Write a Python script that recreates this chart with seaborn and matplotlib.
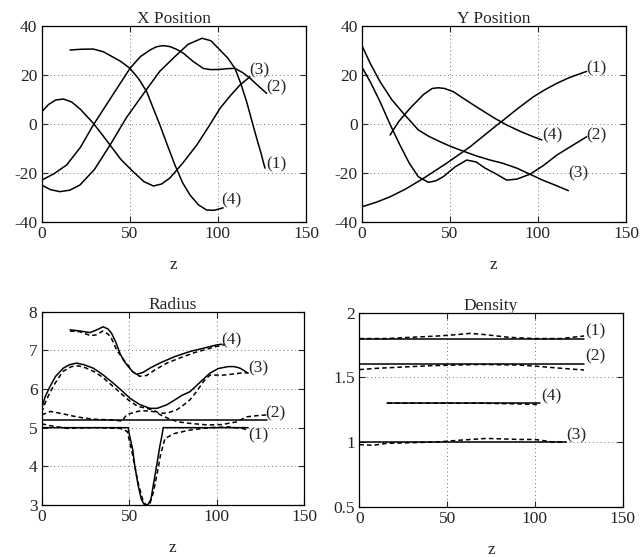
import matplotlib
matplotlib.use("Agg")
import matplotlib.pyplot as plt
import seaborn as sns

# ---- X Position ----
x1_z = [0, 5, 10.4, 16, 21.7, 30, 38.8, 48, 58.6, 67, 75.6, 83, 91, 96, 101.2, 105.5, 109.7, 113, 116.3, 119, 122, 124.5, 126.7]
x1_v = [-24.9, -26.8, -27.6, -27, -24.9, -18.5, -8.6, 2.5, 13.2, 21.5, 27.5, 32.5, 35, 34, 30.2, 27, 22.7, 16.5, 9.1, 2, -5.8, -12, -18]
x2_z = [0, 7, 14.2, 22, 29.3, 40, 50.1, 56, 61.5, 65, 69, 72.8, 76.5, 80.4, 86, 91.7, 96, 101.2, 105.5, 109.7, 114, 118.2, 123, 127.7]
x2_v = [-22.9, -20.3, -16.7, -9.5, -0.4, 11.5, 22.7, 27.5, 30.2, 31.5, 32, 31.6, 30.5, 28.9, 25.5, 22.7, 22.2, 22.3, 22.6, 22.7, 21, 18.7, 15.5, 12.5]
x3_z = [0, 4, 8, 12.3, 17, 22, 29.3, 34, 38.8, 45, 52, 58, 63.4, 68, 72.8, 80, 88, 95, 101.2, 107, 112.5, 118.2]
x3_v = [5, 8, 9.8, 10.2, 9, 6, 0.3, -4, -8.6, -14.5, -19.5, -23.5, -25.3, -24.5, -22, -16, -8.6, -0.8, 6.4, 11.5, 15.9, 19.3]
x4_z = [16.1, 22, 29.3, 35, 40, 45, 50.1, 55, 59.6, 63, 67.1, 71, 75.6, 80, 84.2, 89, 93.6, 98, 103]
x4_v = [30.2, 30.5, 30.6, 29.5, 27.5, 25.5, 22.7, 18.5, 13.2, 7, -0.4, -8, -16.7, -24, -29, -33, -35.1, -35.2, -34.2]

# ---- Y Position ----
y1_z = [0, 8, 16.1, 25, 35, 48.2, 61.5, 75.6, 80.4, 88, 97.4, 104, 110.7, 118, 127.7]
y1_v = [-33.8, -32, -29.7, -26.5, -22.2, -16, -9.3, -1.1, 1.6, 6, 11.1, 14, 16.6, 19, 21.5]
y2_z = [0, 5, 10.4, 16, 21.7, 27, 32.1, 37.8, 42, 46.3, 53, 59.6, 65, 70, 75.6, 82.3, 88, 95.5, 103, 110.7, 119, 127.7]
y2_v = [23.4, 17, 9.1, 0, -8.6, -16, -21.5, -23.8, -23.2, -21.5, -17.5, -14.7, -15.5, -18, -20.1, -22.9, -22.5, -20.5, -17, -12.7, -9, -5.2]
y3_z = [0, 5, 10.4, 17, 23.6, 32.1, 38, 44.4, 50, 55.8, 65, 72.8, 80, 88, 95.5, 103, 110, 117.3]
y3_v = [32.2, 24.5, 17.3, 10, 4.4, -2.4, -5, -7.2, -9, -10.6, -13, -14.7, -16, -18, -20.5, -23, -25, -27.2]
y4_z = [16.1, 21, 27.4, 35, 40, 43.5, 47, 52, 57, 63.4, 70, 75.6, 82.3, 90, 96, 102.2]
y4_v = [-4.5, 1, 6.4, 12, 14.5, 14.8, 14.5, 13.2, 10.8, 7.8, 4.8, 2.3, -0.4, -3, -4.8, -6.5]

# ---- Radius (solid = true, dashed = estimate) ----
r1s_z = [0, 49.5, 50, 52, 53.3, 55.2, 57, 58.5, 59.6, 61, 62.5, 63.8, 65.7, 67.5, 69, 69.5, 118]
r1s_v = [5, 5, 4.85, 4.45, 4.0, 3.5, 3.15, 3.02, 3.0, 3.02, 3.15, 3.5, 4.0, 4.5, 4.85, 5, 5]
r1d_z = [0, 5, 15, 30, 45, 49, 52, 55, 58, 60, 62, 64, 66, 68, 70.5, 76, 85, 96, 107, 116, 118]
r1d_v = [5.1, 5.05, 4.98, 5.0, 4.98, 4.9, 4.3, 3.6, 3.1, 2.98, 3.05, 3.35, 3.8, 4.3, 4.72, 4.85, 4.94, 5.0, 5.02, 4.97, 4.9]
r2s_z = [0, 128.6]
r2s_v = [5.2, 5.2]
r2d_z = [0, 5, 12, 20, 29, 40, 46, 48.5, 53, 57, 61, 64.7, 68, 72.3, 78, 85, 95, 103, 111.5, 117.2, 123, 128.6]
r2d_v = [5.33, 5.42, 5.36, 5.28, 5.22, 5.2, 5.17, 5.33, 5.4, 5.44, 5.43, 5.41, 5.33, 5.24, 5.15, 5.11, 5.07, 5.08, 5.15, 5.28, 5.31, 5.33]
r3s_z = [0, 2, 4.7, 8, 12.4, 16, 20, 24, 29.5, 35, 41, 46, 50.5, 56, 61.9, 66, 71.5, 76.2, 80, 84.8, 90, 96.2, 101, 106.7, 110, 113.4, 118.1]
r3s_v = [5.5, 5.8, 6.06, 6.33, 6.54, 6.63, 6.67, 6.63, 6.54, 6.37, 6.15, 5.95, 5.76, 5.6, 5.5, 5.5, 5.59, 5.72, 5.83, 5.93, 6.15, 6.41, 6.53, 6.58, 6.58, 6.54, 6.41]
r3d_z = [0, 3, 7, 12, 17, 21, 25, 30, 35, 40, 45, 50, 55, 60, 64, 67.6, 72, 77.2, 81, 84.8, 88, 90.5, 93, 96.2, 100, 103.9, 108, 113.4, 118]
r3d_v = [5.4, 5.75, 6.1, 6.45, 6.58, 6.6, 6.55, 6.45, 6.3, 6.1, 5.9, 5.7, 5.55, 5.5, 5.45, 5.37, 5.38, 5.46, 5.58, 5.72, 5.9, 6.06, 6.22, 6.36, 6.36, 6.36, 6.38, 6.41, 6.42]
r4s_z = [16.2, 22, 27.6, 31, 35.2, 38, 40, 42.5, 44.8, 47, 49.5, 52, 54.3, 58, 61.9, 68, 76.2, 84.8, 92, 100.1, 103]
r4s_v = [7.53, 7.5, 7.46, 7.52, 7.61, 7.55, 7.44, 7.2, 6.92, 6.73, 6.58, 6.45, 6.38, 6.43, 6.54, 6.68, 6.84, 6.97, 7.05, 7.14, 7.16]
r4d_z = [16.2, 22, 28, 31, 35, 38, 40, 43, 47, 50, 52, 56, 60, 65, 72, 80, 88, 96, 100, 105]
r4d_v = [7.5, 7.48, 7.38, 7.4, 7.5, 7.42, 7.3, 7.0, 6.75, 6.58, 6.45, 6.33, 6.35, 6.5, 6.68, 6.82, 6.95, 7.05, 7.1, 7.15]

# ---- Density ----
d1s_z = [0, 128]
d1s_v = [1.8, 1.8]
d1d_z = [0, 15, 30, 45, 55, 63, 72, 85, 100, 115, 128]
d1d_v = [1.8, 1.8, 1.81, 1.82, 1.83, 1.84, 1.83, 1.81, 1.8, 1.8, 1.82]
d2s_z = [0, 128]
d2s_v = [1.6, 1.6]
d2d_z = [0, 10, 25, 40, 53.5, 70, 91.5, 102, 110.5, 120, 128]
d2d_v = [1.56, 1.57, 1.58, 1.59, 1.595, 1.6, 1.595, 1.585, 1.575, 1.565, 1.557]
d3s_z = [0, 118]
d3s_v = [1.0, 1.0]
d3d_z = [0, 8, 15.6, 30, 44, 58, 72.5, 91.5, 100, 110.5, 118]
d3d_v = [0.98, 0.975, 0.99, 0.995, 1.0, 1.015, 1.028, 1.02, 1.02, 1.0, 1.0]
d4s_z = [16, 103]
d4s_v = [1.3, 1.3]
d4d_z = [16, 40, 70, 90, 103]
d4d_v = [1.3, 1.3, 1.3, 1.295, 1.29]

# curve tags and where they sit
x_tags = [("(1)", 127.7, -16.3), ("(2)", 127.7, 15), ("(3)", 118, 22), ("(4)", 102, -31)]
y_tags = [("(1)", 127.7, 22.7), ("(2)", 127.7, -4.5), ("(3)", 117.3, -20.1), ("(4)", 102.2, -4.5)]
r_tags = [("(1)", 118, 4.81), ("(2)", 127.7, 5.37), ("(3)", 118.1, 6.54), ("(4)", 102.9, 7.27)]
d_tags = [("(1)", 128.5, 1.853), ("(2)", 128.5, 1.66), ("(3)", 118.1, 1.054), ("(4)", 103.9, 1.35)]

x_ticks = [0, 50, 100, 150]
xy_yticks = [-40, -20, 0, 20, 40]
r_yticks = [3, 4, 5, 6, 7, 8]
d_yticks = [0.5, 1, 1.5, 2]
d_ylabels = ["0.5", "1", "1.5", "2"]

sns.set_style("ticks")
plt.rcParams["font.family"] = ["Liberation Serif", "DejaVu Serif"]
plt.rcParams["axes.unicode_minus"] = False
FS = 12.5
plt.rcParams["font.size"] = FS

fig = plt.figure(figsize=(6.41, 5.57), dpi=100)
ax_x = fig.add_axes([0.065, 0.6014, 0.4124, 0.3519])
ax_y = fig.add_axes([0.5643, 0.6014, 0.4123, 0.3519])
ax_r = fig.add_axes([0.065, 0.0934, 0.4092, 0.3470])
ax_d = fig.add_axes([0.5605, 0.0903, 0.4109, 0.3483])

LW = 1.1


def draw(ax, z, v, dashed=False):
    sns.lineplot(x=z, y=v, ax=ax, color="black", lw=LW, estimator=None,
                 sort=False)
    if dashed:
        ax.lines[-1].set_dashes([3, 2])


def style(ax, title, yticks, ylim, ylabels=None):
    ax.set_xlim(0, 150)
    ax.set_ylim(*ylim)
    ax.set_xticks(x_ticks)
    ax.set_yticks(yticks)
    if ylabels is not None:
        ax.set_yticklabels(ylabels)
    ax.set_title(title, fontsize=FS, pad=2)
    ax.set_xlabel("z", fontsize=FS, labelpad=11)
    ax.set_ylabel("")
    ax.grid(True, linestyle=(0, (1, 3)), color="0.45", lw=0.7)
    ax.tick_params(direction="in", top=True, right=True, length=4,
                   width=0.8, labelsize=FS, pad=3)
    for s in ax.spines.values():
        s.set_color("black")
        s.set_linewidth(0.9)


def tag(ax, tags):
    for t, z, v in tags:
        ax.text(z, v, t, ha="left", va="center", fontsize=FS)


for z, v in [(x1_z, x1_v), (x2_z, x2_v), (x3_z, x3_v), (x4_z, x4_v)]:
    draw(ax_x, z, v)
style(ax_x, "X Position", xy_yticks, (-40, 40))
tag(ax_x, x_tags)

for z, v in [(y1_z, y1_v), (y2_z, y2_v), (y3_z, y3_v), (y4_z, y4_v)]:
    draw(ax_y, z, v)
style(ax_y, "Y Position", xy_yticks, (-40, 40))
tag(ax_y, y_tags)

for z, v in [(r1s_z, r1s_v), (r2s_z, r2s_v), (r3s_z, r3s_v), (r4s_z, r4s_v)]:
    draw(ax_r, z, v)
for z, v in [(r1d_z, r1d_v), (r2d_z, r2d_v), (r3d_z, r3d_v), (r4d_z, r4d_v)]:
    draw(ax_r, z, v, dashed=True)
style(ax_r, "Radius", r_yticks, (3, 8))
tag(ax_r, r_tags)

for z, v in [(d1s_z, d1s_v), (d2s_z, d2s_v), (d3s_z, d3s_v), (d4s_z, d4s_v)]:
    draw(ax_d, z, v)
for z, v in [(d1d_z, d1d_v), (d2d_z, d2d_v), (d3d_z, d3d_v), (d4d_z, d4d_v)]:
    draw(ax_d, z, v, dashed=True)
style(ax_d, "Density", d_yticks, (0.5, 2), d_ylabels)
tag(ax_d, d_tags)

fig.savefig("out.png", dpi=100)
